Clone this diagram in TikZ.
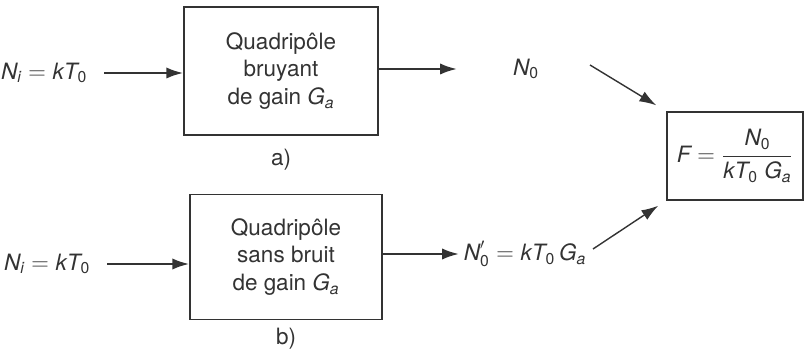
\documentclass[tikz,border=0pt]{standalone}
\usepackage{fontspec}
\setmainfont{TeX Gyre Heros}
\usepackage{amsmath}
\usetikzlibrary{arrows.meta,positioning}
\newcommand{\vi}[1]{\textit{#1}}

\begin{document}
\begin{tikzpicture}[x=0.025cm,y=-0.025cm,
    every node/.style={font=\fontsize{16}{19.5}\selectfont, text=black!80},
    quad/.style={draw=black!80, line width=1pt, minimum width=4.85cm,
      minimum height=3.2cm, align=center, inner sep=0pt},
    flow/.style={draw=black!80, line width=1.6pt, -{Latex[length=12pt,width=8pt]}},
    slant/.style={draw=black!80, line width=1pt, -{Latex[length=12pt,width=8pt]}}]
    \useasboundingbox (0,0) rectangle (805,354);

    % a) noisy two-port
    \node[quad] (qa) at (281,71) {Quadripôle\\bruyant\\de gain $\vi{G}_{\vi{a}}$};
    \node[below=0.22cm of qa] (la) {a)};
    \node[anchor=east] (ina) at (92,73) {$\vi{N}_{\vi{i}} = \vi{k}\vi{T}_{\textup{0}}$};
    \node (na) at (526,69) {$\vi{N}_{\textup{0}}$};
    \coordinate (oa) at (457,69);
    \draw[flow] (ina.east) ++(12,0) -- (qa.west |- ina.east);
    \draw[flow] (qa.east |- oa) -- (oa);

    % b) noiseless two-port
    \node[quad, minimum width=4.8cm, minimum height=3.125cm] (qb) at (286,257)
      {Quadripôle\\sans bruit\\de gain $\vi{G}_{\vi{a}}$};
    \node[below=0.08cm of qb] (lb) {b)};
    \node[anchor=east] (inb) at (95,264) {$\vi{N}_{\vi{i}} = \vi{k}\vi{T}_{\textup{0}}$};
    \node[anchor=west] (nb) at (459,254) {$\vi{N}'_{\textup{0}} = \vi{k}\vi{T}_{\textup{0}}\,\vi{G}_{\vi{a}}$};
    \draw[flow] (inb.east) ++(12,0) -- (qb.west |- inb.east);
    \draw[flow] (qb.east |- nb.west) -- (nb.west);

    % noise figure
    \node[draw=black!80, line width=1pt, minimum width=3.4cm, minimum height=2.2cm] (fig)
      at (735,156) {$\vi{F} = \dfrac{\vi{N}_{\textup{0}}}{\vi{k}\vi{T}_{\textup{0}}\;\vi{G}_{\vi{a}}}$};
    \coordinate (ta) at (590,65);
    \coordinate (tb) at (593,249);
    \draw[slant] (ta) -- ([shift={(-10,-6)}]fig.north west);
    \draw[slant] (tb) -- ([shift={(-8,5)}]fig.south west);
\end{tikzpicture}
\end{document}
